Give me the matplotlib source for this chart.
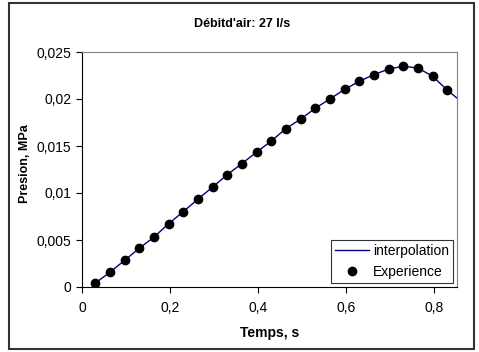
import matplotlib.pyplot as plt
import numpy as np
from matplotlib.ticker import FuncFormatter
from matplotlib.patches import Rectangle

plt.rcParams['font.family'] = ['Liberation Sans', 'DejaVu Sans']

# Experience: time (s) and pressure (MPa)
temps = [0.030, 0.063, 0.097, 0.130, 0.163, 0.197, 0.230, 0.263, 0.297, 0.330,
         0.363, 0.397, 0.430, 0.463, 0.497, 0.530, 0.563, 0.597, 0.630, 0.663,
         0.697, 0.730, 0.763, 0.797, 0.830]
presion = [0.0004, 0.00156, 0.00284, 0.00412, 0.00529, 0.00674, 0.00801, 0.00933,
           0.01064, 0.01195, 0.01312, 0.01436, 0.01553, 0.01684, 0.01787, 0.01901,
           0.0200, 0.02103, 0.02188, 0.02259, 0.02319, 0.02348, 0.0233, 0.02241,
           0.02093]

# interpolation curve: same points with its two ends
interp_t = [0.025] + temps + [0.852]
interp_p = [0.0] + presion + [0.0201]

xticks = [0, 0.2, 0.4, 0.6, 0.8]
yticks = [0, 0.005, 0.01, 0.015, 0.02, 0.025]

fig = plt.figure(figsize=(4.79, 3.52), dpi=100)
ax = fig.add_axes([82/479, 1-287/352, 375/479, 235/352])

ax.plot(interp_t, interp_p, color='#000080', lw=1.0, label='interpolation')
ax.plot(temps, presion, 'o', color='black', ms=6, label='Experience')

ax.set_xlim(0, 0.852)
ax.set_ylim(0, 0.025)
ax.set_xticks(xticks)
ax.set_yticks(yticks)
comma = FuncFormatter(lambda v, p: ('%g' % v).replace('.', ','))
ax.xaxis.set_major_formatter(comma)
ax.yaxis.set_major_formatter(comma)
ax.tick_params(direction='out', length=4, width=0.8, labelsize=10)
ax.tick_params(axis='x', pad=6)
ax.tick_params(axis='y', pad=3.5)

for s in ['top', 'right']:
    ax.spines[s].set_color('#808080')
for s in ['left', 'bottom']:
    ax.spines[s].set_color('black')

ax.set_xlabel('Temps, s', fontsize=10, fontweight='bold', labelpad=8)
ax.set_ylabel('Presion, MPa', fontsize=9, fontweight='bold', labelpad=4)
ax.yaxis.label.set_y(0.525)
fig.text(242/479, 1 - 24/352, "Débitd'air: 27 l/s",
         ha='center', va='center', fontsize=9, fontweight='bold')

leg = ax.legend(loc='lower right', bbox_to_anchor=(0.989, 0.017), fontsize=10,
                frameon=True, fancybox=False, borderaxespad=0, handlelength=2.4,
                handletextpad=0.3, borderpad=0.3, labelspacing=0.5)
leg.get_frame().set_edgecolor('black')
leg.get_frame().set_linewidth(0.8)

fig.patches.append(Rectangle((9/479, 3/352), 465/479, 346/352, transform=fig.transFigure,
                             fill=False, edgecolor='#333333', lw=1.5))

fig.savefig('out.png', dpi=100)
